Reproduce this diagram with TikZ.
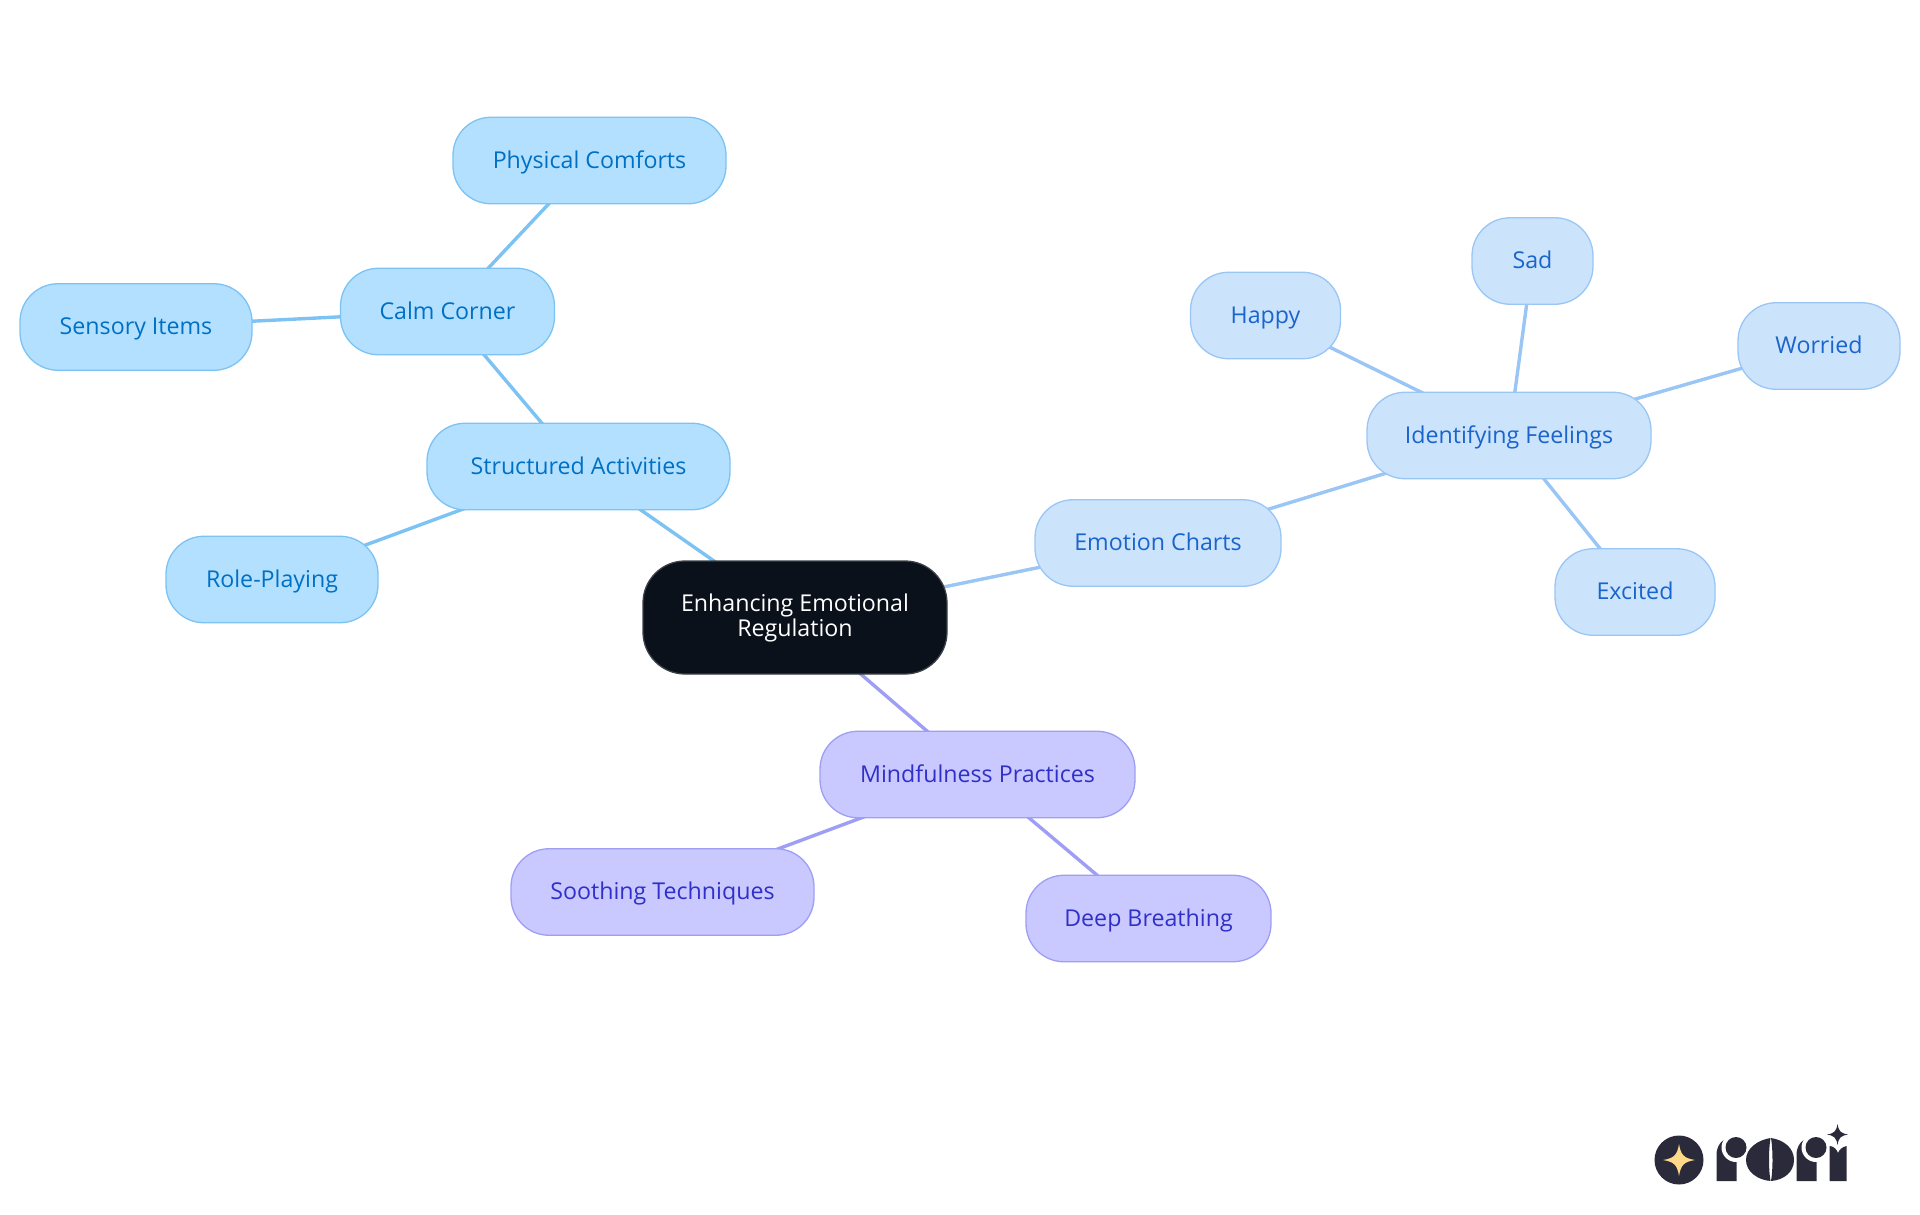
\documentclass[tikz,border=0pt]{standalone}
\usepackage{fontspec}
\setmainfont{Open Sans}
\usetikzlibrary{backgrounds}
\definecolor{skyfill}{HTML}{B3E0FF}
\definecolor{skyline}{HTML}{7CC2F2}
\definecolor{skytext}{HTML}{0070C4}
\definecolor{bluefill}{HTML}{CCE3FC}
\definecolor{blueline}{HTML}{99C6F5}
\definecolor{bluetext}{HTML}{1A64CC}
\definecolor{violetfill}{HTML}{C9C9FF}
\definecolor{violetline}{HTML}{9E9EF5}
\definecolor{violettext}{HTML}{3030C8}
\definecolor{rootfill}{HTML}{0A111A}
\definecolor{rootline}{HTML}{3C4148}
\definecolor{logoink}{HTML}{2A2A3A}
\definecolor{logostar}{HTML}{FFD98A}
\tikzset{
  mapnode/.style={draw,line width=1.3pt,rounded corners=38pt,inner sep=0pt,minimum height=86.5pt,
    font=\fontsize{23.2}{25}\selectfont,align=center},
  leafnode/.style={mapnode,text height=20pt,text depth=5pt},
  skynode/.style={leafnode,fill=skyfill,draw=skyline,text=skytext},
  bluenode/.style={leafnode,fill=bluefill,draw=blueline,text=bluetext},
  violetnode/.style={leafnode,fill=violetfill,draw=violetline,text=violettext},
  rootnode/.style={mapnode,fill=rootfill,draw=rootline,text=white,rounded corners=42pt},
  skyedge/.style={draw=skyline,line width=3.4pt},
  blueedge/.style={draw=blueline,line width=3.4pt},
  violetedge/.style={draw=violetline,line width=3.4pt},
}
% four pointed star of the logo
\newcommand{\logostar}[4]{
  \fill[#4] (#1,#2-#3) .. controls (#1+0.12*#3,#2-0.3*#3) and (#1+0.3*#3,#2-0.12*#3) .. (#1+#3,#2)
    .. controls (#1+0.3*#3,#2+0.12*#3) and (#1+0.12*#3,#2+0.3*#3) .. (#1,#2+#3)
    .. controls (#1-0.12*#3,#2+0.3*#3) and (#1-0.3*#3,#2+0.12*#3) .. (#1-#3,#2)
    .. controls (#1-0.3*#3,#2-0.12*#3) and (#1-0.12*#3,#2-0.3*#3) .. (#1,#2-#3) -- cycle;
}
% letter r of the logo, #1 is its left edge
\newcommand{\logoletter}[1]{
  \fill[logoink] (#1,1181) -- (#1,1155) .. controls (#1,1146) and (#1+5,1139) .. (#1+13,1138)
    -- (#1+20,1138) -- (#1+20,1181) -- cycle;
  \fill[white] (#1+19.5,1147.5) circle (14.5);
  \fill[white] (#1+21,1140) rectangle (#1+34,1165);
  \fill[logoink] (#1+19.5,1147.5) circle (10.5);
}
\begin{document}
\begin{tikzpicture}[x=1pt,y=-1pt]
 \useasboundingbox (0,0) rectangle (1920,1215);

 \node (root) at (795,617.5) [rootnode,minimum width=304pt,minimum height=113pt] {Enhancing Emotional\\Regulation};

 \node (structured) at (578.5,466.5) [skynode,minimum width=303pt] {Structured Activities};
 \node (calm) at (447.5,311.5) [skynode,minimum width=214pt] {Calm Corner};
 \node (comforts) at (589.5,160.5) [skynode,minimum width=273pt] {Physical Comforts};
 \node (sensory) at (136,327) [skynode,minimum width=232pt] {Sensory Items};
 \node (roleplay) at (272,579.5) [skynode,minimum width=212pt] {Role-Playing};

 \node (charts) at (1158,543) [bluenode,minimum width=246pt] {Emotion Charts};
 \node (feelings) at (1509,435.5) [bluenode,minimum width=284pt] {Identifying Feelings};
 \node (happy) at (1265.5,315.5) [bluenode,minimum width=150pt] {Happy};
 \node (sad) at (1532.5,261) [bluenode,minimum width=121pt] {Sad};
 \node (worried) at (1819,346) [bluenode,minimum width=162pt] {Worried};
 \node (excited) at (1635,592) [bluenode,minimum width=160pt] {Excited};

 \node (mindful) at (977.5,774.5) [violetnode,minimum width=315pt] {Mindfulness Practices};
 \node (soothing) at (662.5,892) [violetnode,minimum width=303pt] {Soothing Techniques};
 \node (breathing) at (1148.5,918.5) [violetnode,minimum width=245pt] {Deep Breathing};

 \begin{scope}[on background layer]
  \draw [skyedge] (root.center) -- (structured.center);
  \draw [skyedge] (structured.center) -- (calm.center);
  \draw [skyedge] (calm.center) -- (comforts.center);
  \draw [skyedge] (calm.center) -- (sensory.center);
  \draw [skyedge] (structured.center) -- (roleplay.center);
  \draw [blueedge] (root.center) -- (charts.center);
  \draw [blueedge] (charts.center) -- (feelings.center);
  \draw [blueedge] (feelings.center) -- (happy.center);
  \draw [blueedge] (feelings.center) -- (sad.center);
  \draw [blueedge] (feelings.center) -- (worried.center);
  \draw [blueedge] (feelings.center) -- (excited.center);
  \draw [violetedge] (root.center) -- (mindful.center);
  \draw [violetedge] (mindful.center) -- (soothing.center);
  \draw [violetedge] (mindful.center) -- (breathing.center);
 \end{scope}

 % logo
 \fill[logoink] (1679,1160) circle (24.5);
 \logostar{1679}{1160}{16}{logostar}
 \logoletter{1716.5}
 \fill[logoink] (1770.5,1138) .. controls (1758,1140) and (1746,1148) .. (1746,1160)
   .. controls (1746,1172) and (1758,1180) .. (1770.5,1181)
   .. controls (1768.5,1170) and (1768.5,1150) .. (1770.5,1138) -- cycle;
 \fill[logoink] (1771,1138) .. controls (1784,1140) and (1794,1148) .. (1794,1160)
   .. controls (1794,1172) and (1784,1180) .. (1771,1181)
   .. controls (1773,1170) and (1773,1150) .. (1771,1138) -- cycle;
 \logoletter{1796.5}
 \fill[logoink] (1829.5,1146) .. controls (1834,1146) and (1837,1150) .. (1838,1153)
   .. controls (1839,1150) and (1842,1147) .. (1846.5,1146) -- (1846.5,1181) -- (1829.5,1181) -- cycle;
 \logostar{1837.5}{1134.5}{10.5}{logoink}
\end{tikzpicture}
\end{document}
